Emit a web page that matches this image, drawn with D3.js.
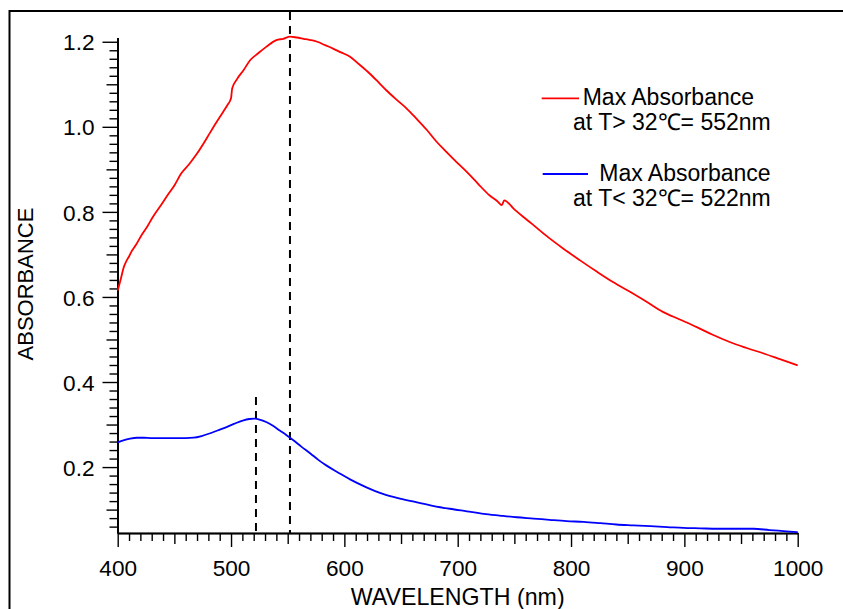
<!DOCTYPE html>
<html>
<head>
<meta charset="utf-8">
<script src="https://cdn.jsdelivr.net/npm/d3@7"></script>
<style>
  body { margin: 0; background: #fff; }
  svg { display: block; font-family: "Liberation Sans", Arial, Helvetica, sans-serif; }
</style>
</head>
<body>
<div id="chart"></div>
<script>
// spectra (wavelength nm, absorbance)
const redWl = [400, 403, 405, 408, 410, 412, 416, 421, 426, 431, 438, 445, 450, 456, 463, 470, 476, 481, 487, 493, 497, 500, 501, 505, 511, 517, 524, 531, 540, 546, 552, 558, 564, 570, 576, 583, 590, 597, 605, 613, 622, 630, 637, 646, 655, 664, 673, 681, 690, 699, 708, 718, 728, 735, 739, 741, 750, 758, 765, 780, 793, 808, 823, 837, 852, 867, 881, 896, 911, 925, 940, 955, 970, 985, 1000];
const redAbs = [0.615, 0.645, 0.667, 0.686, 0.695, 0.706, 0.722, 0.745, 0.765, 0.788, 0.815, 0.843, 0.862, 0.890, 0.912, 0.937, 0.962, 0.984, 1.010, 1.035, 1.052, 1.067, 1.090, 1.111, 1.133, 1.157, 1.173, 1.188, 1.204, 1.207, 1.212, 1.210, 1.207, 1.204, 1.200, 1.192, 1.184, 1.175, 1.165, 1.147, 1.126, 1.105, 1.086, 1.064, 1.043, 1.018, 0.992, 0.966, 0.941, 0.917, 0.894, 0.866, 0.839, 0.825, 0.816, 0.827, 0.806, 0.788, 0.773, 0.740, 0.714, 0.686, 0.659, 0.635, 0.612, 0.588, 0.565, 0.547, 0.529, 0.511, 0.494, 0.480, 0.467, 0.453, 0.439];

const blueWl = [400, 405, 411, 417, 423, 430, 437, 445, 452, 460, 467, 474, 481, 488, 496, 503, 511, 516, 521, 526, 531, 537, 543, 549, 555, 562, 570, 577, 584, 594, 605, 619, 634, 649, 664, 678, 693, 708, 723, 737, 752, 767, 781, 796, 811, 826, 840, 855, 870, 885, 899, 914, 929, 945, 961, 975, 990, 1000];
const blueAbs = [0.258, 0.263, 0.267, 0.269, 0.269, 0.268, 0.268, 0.268, 0.268, 0.268, 0.269, 0.273, 0.279, 0.286, 0.294, 0.302, 0.310, 0.313, 0.314, 0.311, 0.306, 0.297, 0.286, 0.275, 0.263, 0.248, 0.232, 0.217, 0.204, 0.188, 0.171, 0.153, 0.137, 0.126, 0.117, 0.109, 0.102, 0.096, 0.090, 0.086, 0.082, 0.079, 0.076, 0.073, 0.071, 0.068, 0.065, 0.063, 0.061, 0.059, 0.057, 0.056, 0.055, 0.055, 0.055, 0.052, 0.049, 0.047];

// peak markers: wavelength, top of dashed line (absorbance)
const peakWl = [552, 522];
const peakTop = [1.27, 0.365];

const xTicks = [400, 500, 600, 700, 800, 900, 1000];
const yTicks = [0.2, 0.4, 0.6, 0.8, 1.0, 1.2];

const legendTitle = ["Max Absorbance", "Max Absorbance"];
const legendSub = ["at T> 32\u2103= 552nm", "at T< 32\u2103= 522nm"];
const colors = ["#ff0000", "#0000ff"];

const width = 843, height = 609;

const x = d3.scaleLinear().domain([400, 1000]).range([117.7, 797.7]);
const y = d3.scaleLinear().domain([0.045, 1.21]).range([533, 37.5]);

const svg = d3.select("#chart").append("svg")
  .attr("width", width)
  .attr("height", height);

// outer frame
svg.append("rect")
  .attr("x", 9.5).attr("y", 11)
  .attr("width", 900).attr("height", 700)
  .attr("fill", "none")
  .attr("stroke", "#000")
  .attr("stroke-width", 2);

// x axis, three tick lengths
const range = (a, b, s) => d3.range(a, b + s / 2, s).map(v => +v.toFixed(4));
const xMinor = range(400, 1000, 10).filter(v => v % 50 !== 0);
const xMid = range(450, 950, 100);

const gx = svg.append("g").attr("transform", "translate(0,533)");
gx.append("g").call(d3.axisBottom(x).tickValues(xMinor).tickSize(8).tickSizeOuter(0).tickFormat(""));
gx.append("g").call(d3.axisBottom(x).tickValues(xMid).tickSize(11).tickSizeOuter(0).tickFormat(""));
gx.append("g").call(d3.axisBottom(x).tickValues(xTicks).tickSize(14).tickSizeOuter(0).tickFormat(d3.format("d")));
gx.selectAll(".domain").attr("stroke-width", 1.6);
gx.selectAll(".tick line").attr("stroke-width", 1.4);
gx.selectAll(".tick text")
  .attr("y", 43).attr("dy", 0)
  .attr("font-size", 22.6)
  .attr("fill", "#000");

// y axis
const yMinor = range(0.06, 1.2, 0.02).filter(v => Math.round(v * 100) % 10 !== 0);
const yMid = [0.1, 0.3, 0.5, 0.7, 0.9, 1.1];

const gy = svg.append("g").attr("transform", "translate(117.5,0)");
gy.append("g").call(d3.axisLeft(y).tickValues(yMinor).tickSize(8).tickSizeOuter(0).tickFormat(""));
gy.append("g").call(d3.axisLeft(y).tickValues(yMid).tickSize(11).tickSizeOuter(0).tickFormat(""));
gy.append("g").call(d3.axisLeft(y).tickValues(yTicks).tickSize(15).tickSizeOuter(0).tickFormat(d3.format(".1f")));
gy.selectAll(".domain").attr("stroke-width", 1.6);
gy.selectAll(".tick line").attr("stroke-width", 1.4);
gy.selectAll(".tick text")
  .attr("x", -23).attr("dy", "0.36em")
  .attr("font-size", 22.6)
  .attr("fill", "#000");

// axis titles
svg.append("text")
  .attr("x", 457.7).attr("y", 605)
  .attr("text-anchor", "middle")
  .attr("font-size", 23.2)
  .text("WAVELENGTH (nm)");

svg.append("text")
  .attr("transform", "translate(33,284) rotate(-90)")
  .attr("text-anchor", "middle")
  .attr("font-size", 22)
  .text("ABSORBANCE");

// dashed peak markers
svg.selectAll(".peak")
  .data(peakWl)
  .enter().append("line")
  .attr("class", "peak")
  .attr("x1", d => x(d)).attr("x2", d => x(d))
  .attr("y1", (d, i) => y(peakTop[i]))
  .attr("y2", y(0.045))
  .attr("stroke", "#000")
  .attr("stroke-width", 2)
  .attr("stroke-dasharray", "8,6");

// spectra
const redData = redWl.map((w, i) => ({w: w, a: redAbs[i]}));
const blueData = blueWl.map((w, i) => ({w: w, a: blueAbs[i]}));

const line = d3.line().curve(d3.curveMonotoneX).x(d => x(d.w)).y(d => y(d.a));

svg.append("path")
  .datum(redData)
  .attr("fill", "none")
  .attr("stroke", colors[0])
  .attr("stroke-width", 1.8)
  .attr("d", line);

svg.append("path")
  .datum(blueData)
  .attr("fill", "none")
  .attr("stroke", colors[1])
  .attr("stroke-width", 1.8)
  .attr("d", line);

// legend
const legPos = [
  {x1: 541.7, x2: 579, ly: 98.3, tx: 582.7, ty: 105, sx: 573, sy: 130},
  {x1: 542.7, x2: 588, ly: 174, tx: 599.3, ty: 181, sx: 573, sy: 206}
];

const leg = svg.selectAll(".legend")
  .data(legPos)
  .enter().append("g")
  .attr("class", "legend");

leg.append("line")
  .attr("x1", d => d.x1).attr("x2", d => d.x2)
  .attr("y1", d => d.ly).attr("y2", d => d.ly)
  .attr("stroke", (d, i) => colors[i])
  .attr("stroke-width", 1.8);

leg.append("text")
  .attr("x", d => d.tx).attr("y", d => d.ty)
  .attr("font-size", 23)
  .text((d, i) => legendTitle[i]);

leg.append("text")
  .attr("x", d => d.sx).attr("y", d => d.sy)
  .attr("font-size", 23)
  .text((d, i) => legendSub[i]);
</script>
</body>
</html>
